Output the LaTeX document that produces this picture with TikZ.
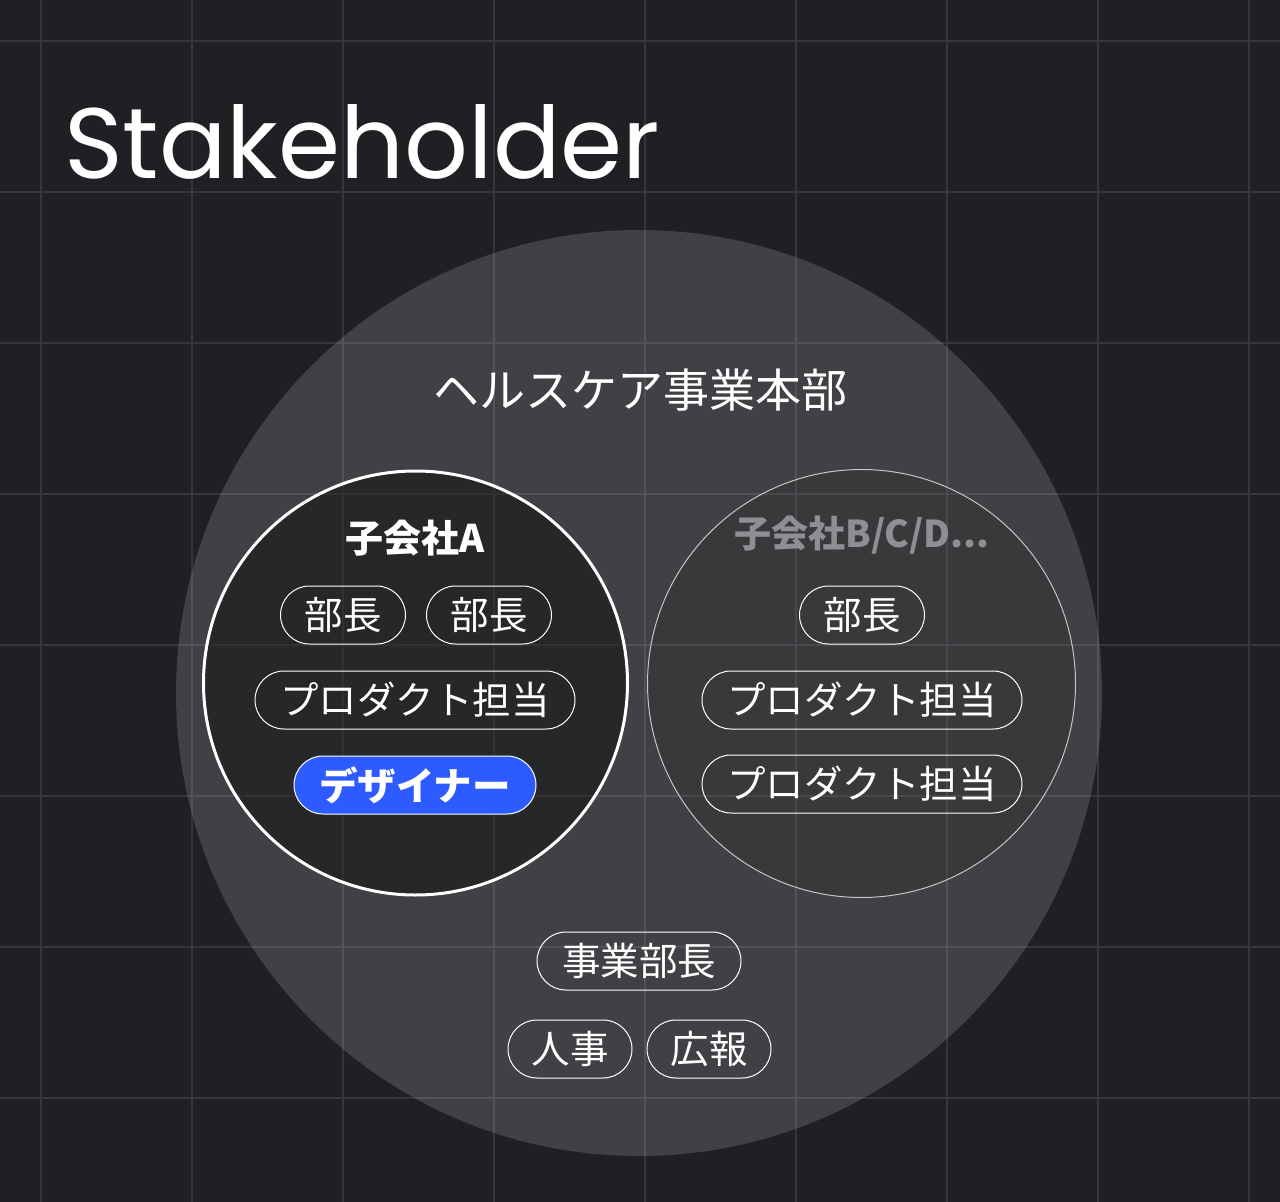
\documentclass[tikz,border=0pt]{standalone}
\usepackage{fontspec}
\setmainfont{Poppins}
\newfontfamily\jp{Noto Sans CJK JP}
\usetikzlibrary{shapes.misc}
\definecolor{bgcol}{HTML}{1E2024}
\definecolor{gridcol}{HTML}{34363B}
\definecolor{designblue}{HTML}{2E5BFF}
\definecolor{subgray}{HTML}{8D8F93}

\begin{document}
\begin{tikzpicture}[x=1pt, y=-1pt,
	pill/.style={draw=white, line width=1pt, rounded rectangle, minimum height=58pt, minimum width=#1, inner xsep=4pt, text=white, font=\jp\fontsize{38.5}{38.5}\selectfont},
	pill/.default=133pt,
	heading/.style={text=white, font=\jp\bfseries\fontsize{37}{37}\selectfont}]
	\useasboundingbox (0,0) rectangle (1280,1202);
	\fill [bgcol] (0,0) rectangle (1280,1202);
	% grid
	\foreach \k in {0,...,8}
		\draw [gridcol, line width=2pt] ({41+151*\k},0) -- ({41+151*\k},1202);
	\foreach \k in {0,...,7}
		\draw [gridcol, line width=2pt] (0,{41+151*\k}) -- (1280,{41+151*\k});
	\node [anchor=base west, inner sep=0, text=white, font=\fontsize{100}{100}\selectfont] (title) at (64,178) {Stakeholder};
	% circles
	\node [circle, fill=white, fill opacity=0.15, minimum size=926pt, inner sep=0] (unit) at (639,693) {};
	\node [circle, draw=white, line width=3pt, fill=black, fill opacity=0.4, minimum size=424pt, inner sep=0] (compA) at (415.5,683) {};
	\node [circle, draw=white!55!gray, line width=1pt, fill=black, fill opacity=0.12, minimum size=428pt, inner sep=0] (compB) at (861.5,683.5) {};
	% labels
	\node [text=white, font=\jp\fontsize{46}{46}\selectfont] (unitname) at (640,390) {ヘルスケア事業本部};
	\node [heading, font=\jp\bfseries\fontsize{38}{38}\selectfont] (nameA) at (415,538) {子会社A};
	\node [heading, text=subgray] (nameB) at (862,535) {子会社B/C/D...};
	% company A
	\node [pill] (headA1) at (343,615) {部長};
	\node [pill] (headA2) at (489,615) {部長};
	\node [pill=328pt] (prodA) at (415,700) {プロダクト担当};
	\node [pill=250pt, fill=designblue, font=\jp\bfseries\fontsize{38.5}{38.5}\selectfont] (designer) at (415,785) {デザイナー};
	% company B
	\node [pill] (headB) at (862,615) {部長};
	\node [pill=328pt] (prodB1) at (862,700) {プロダクト担当};
	\node [pill=328pt] (prodB2) at (862,784) {プロダクト担当};
	% unit
	\node [pill=212pt] (unithead) at (639,961) {事業部長};
	\node [pill=132pt] (hr) at (570,1049) {人事};
	\node [pill=132pt] (pr) at (709,1049) {広報};
\end{tikzpicture}
\end{document}
